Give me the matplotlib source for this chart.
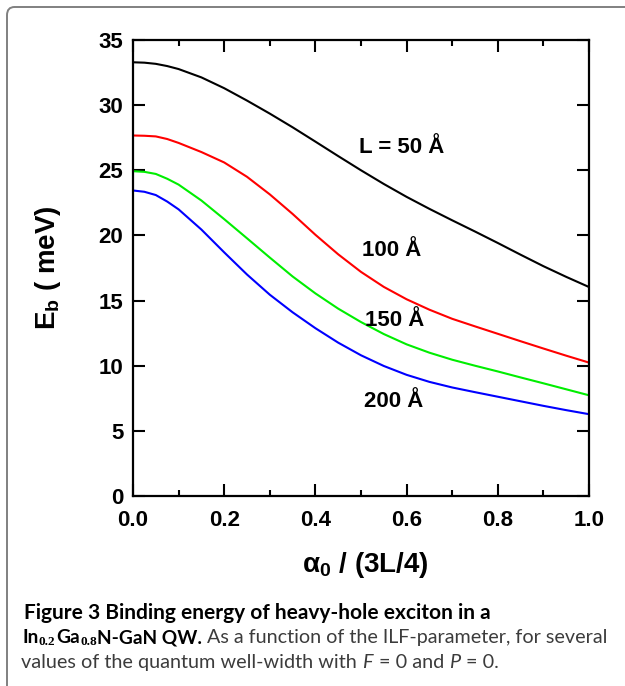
import matplotlib
matplotlib.use("Agg")
import matplotlib.pyplot as plt
from matplotlib.patches import FancyBboxPatch
from matplotlib.ticker import MultipleLocator

# ---- data ----
alpha_ratio = [0.0, 0.025, 0.05, 0.075, 0.1, 0.15, 0.2, 0.25, 0.3, 0.35, 0.4,
               0.45, 0.5, 0.55, 0.6, 0.65, 0.7, 0.75, 0.8, 0.85, 0.9, 0.95,
               1.0]
eb_50 = [33.29, 33.26, 33.17, 33.0, 32.77, 32.13, 31.3, 30.35, 29.35, 28.3,
         27.2, 26.09, 25.0, 23.95, 22.96, 22.04, 21.16, 20.3, 19.42, 18.52,
         17.64, 16.82, 16.04]
eb_100 = [27.67, 27.65, 27.6, 27.4, 27.1, 26.4, 25.6, 24.5, 23.15, 21.65,
          20.05, 18.55, 17.2, 16.05, 15.1, 14.3, 13.6, 13.02, 12.45, 11.88,
          11.32, 10.77, 10.24]
eb_150 = [24.93, 24.88, 24.72, 24.35, 23.9, 22.68, 21.25, 19.78, 18.3, 16.85,
          15.55, 14.38, 13.35, 12.43, 11.64, 11.0, 10.46, 10.0, 9.56, 9.1,
          8.65, 8.19, 7.73]
eb_200 = [23.45, 23.35, 23.1, 22.6, 22.0, 20.45, 18.7, 17.0, 15.45, 14.1,
          12.88, 11.77, 10.8, 9.98, 9.3, 8.76, 8.33, 7.97, 7.62, 7.27, 6.92,
          6.59, 6.28]

curve_labels = ["L = 50 Å", "100 Å", "150 Å", "200 Å"]
label_x = [0.59, 0.567, 0.573, 0.571]
label_y = [26.78, 18.84, 13.45, 7.25]

x_ticks = [0.0, 0.2, 0.4, 0.6, 0.8, 1.0]
y_ticks = [0, 5, 10, 15, 20, 25, 30, 35]

# ---- fonts ----
plt.rcParams['font.family'] = ['Liberation Sans', 'DejaVu Sans']
plt.rcParams['mathtext.fontset'] = 'custom'
plt.rcParams['mathtext.rm'] = 'Lato'
plt.rcParams['mathtext.it'] = 'Lato:italic'
plt.rcParams['mathtext.bf'] = 'Liberation Serif:bold'
plt.rcParams['mathtext.sf'] = 'Liberation Sans:bold'

W, H = 625, 686
fig = plt.figure(figsize=(W / 100, H / 100), dpi=100)

# rounded frame around the figure panel (cut off at right/bottom)
frame = FancyBboxPatch((7 / W, -0.05), 1.2, 1.05 - 7 / H,
                       boxstyle="round,pad=0,rounding_size=0.012",
                       transform=fig.transFigure, facecolor='none',
                       edgecolor='#808080', linewidth=1.4)
fig.patches.append(frame)

ax = fig.add_axes([133 / W, 1 - 496 / H, 456 / W, 456 / H])

ax.plot(alpha_ratio, eb_50, color='black', lw=1.5)
ax.plot(alpha_ratio, eb_100, color='#ff0000', lw=1.5)
ax.plot(alpha_ratio, eb_150, color='#00ee00', lw=1.5)
ax.plot(alpha_ratio, eb_200, color='#0000ff', lw=1.5)

for txt, lx, ly in zip(curve_labels, label_x, label_y):
    ax.text(lx, ly, txt, ha='center', va='center', fontsize=16,
            fontweight='bold')

ax.set_xlim(0, 1)
ax.set_ylim(0, 35)
ax.set_xticks(x_ticks)
ax.set_xticklabels([f"{v:.1f}" for v in x_ticks])
ax.set_yticks(y_ticks)
ax.xaxis.set_minor_locator(MultipleLocator(0.1))

for s in ax.spines.values():
    s.set_linewidth(1.6)
ax.tick_params(which='both', direction='in', top=True, right=True, width=1.5)
ax.tick_params(which='major', length=8.5, labelsize=16)
ax.tick_params(axis='x', which='major', pad=10)
ax.tick_params(axis='y', which='major', pad=7)
ax.tick_params(which='minor', length=4.3)
for lab in ax.get_xticklabels() + ax.get_yticklabels():
    lab.set_fontweight('bold')

fig.text(48 / W, 1 - 268 / H, r"E$_{\mathsf{b}}$ ( meV)", rotation=90,
         ha='center', va='center', fontsize=20, fontweight='bold')
fig.text(365 / W, 1 - 565 / H, r"α$_{\mathsf{0}}$ / (3L/4)",
         ha='center', va='center', fontsize=20, fontweight='bold')

# ---- caption, built from runs of text sharing a baseline ----
renderer = fig.canvas.get_renderer()
cap_color = '#3c3c3c'


def put_runs(x_px, base_px, runs):
    # each run: (text, style dict, gap after in px, baseline shift px, size)
    x = x_px
    for s, kw, gap, dy, size in runs:
        kw = dict(kw)
        fam = kw.pop('family', 'Lato')
        t = fig.text(x / W, 1 - (base_px + dy) / H, s, ha='left',
                     va='baseline', fontsize=size, family=fam, **kw)
        bb = t.get_window_extent(renderer)
        x = bb.x1 + gap
    return x


bold = dict(fontweight='bold', color='black')
sub = dict(fontweight='bold', color='black', family='Liberation Serif')
reg = dict(color=cap_color)
put_runs(24, 619, [("Figure 3 Binding energy of heavy-hole exciton in a",
                    bold, 0, 0, 15)])
put_runs(22, 643, [("In", bold, 0.5, 0, 13.8), ("0.2", sub, 0.5, 2, 9.5),
                   ("Ga", bold, 0.5, 0, 13.8), ("0.8", sub, 0.5, 2, 9.5),
                   ("N-GaN QW.", bold, 5, 0, 13.8),
                   ("As a function of the ILF-parameter, for several",
                    reg, 0, 0, 14.2)])
put_runs(21, 668, [("values of the quantum well-width with", reg, 5, 0, 14.3),
                   (r"$F$", reg, 4, 0, 14.3), ("= 0 and", reg, 5, 0, 14.3),
                   (r"$P$", reg, 4, 0, 14.3), ("= 0.", reg, 0, 0, 14.3)])

fig.savefig("out.png", dpi=100)
